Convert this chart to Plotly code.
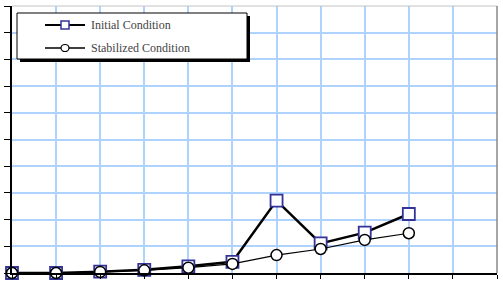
import plotly.graph_objects as go

# ---- data ----
x_positions = [0, 1, 2, 3, 4, 5, 6, 7, 8, 9]
initial_condition = [0, 0, 0.05, 0.12, 0.25, 0.42, 2.71, 1.11, 1.51, 2.21]
stabilized_condition = [0, 0, 0.04, 0.10, 0.20, 0.34, 0.67, 0.90, 1.24, 1.49]
series_names = ["Initial Condition", "Stabilized Condition"]

W, H = 503, 285
L, R, T, B = 12, 6, 6, 12
PW, PH = W - L - R, H - T - B


def px(x):
    return (x - L) / PW


def py(y):
    return (H - B - y) / PH


fig = go.Figure()
fig.add_trace(go.Scatter(
    x=x_positions, y=initial_condition, mode="lines+markers", name=series_names[0],
    line=dict(color="black", width=2.5),
    marker=dict(symbol="square", size=12, color="white", line=dict(color="#333399", width=1.8)),
    cliponaxis=False, showlegend=False))
fig.add_trace(go.Scatter(
    x=x_positions, y=stabilized_condition, mode="lines+markers", name=series_names[1],
    line=dict(color="black", width=1.2),
    marker=dict(symbol="circle", size=11, color="white", line=dict(color="black", width=1.5)),
    cliponaxis=False, showlegend=False))

shapes = []
# top border (light) and right border (gray)
shapes.append(dict(type="line", xref="paper", yref="paper", x0=0, x1=1, y0=1, y1=1,
                   line=dict(color="#c4c4c4", width=1), layer="above"))
shapes.append(dict(type="line", xref="paper", yref="paper", x0=1, x1=1, y0=0, y1=1,
                   line=dict(color="#888888", width=1.5), layer="above"))
# legend shadow and box
shapes.append(dict(type="rect", xref="paper", yref="paper", x0=px(20), x1=px(250), y0=py(16), y1=py(62),
                   fillcolor="black", line=dict(width=0), layer="above"))
shapes.append(dict(type="rect", xref="paper", yref="paper", x0=px(17), x1=px(247), y0=py(13), y1=py(59),
                   fillcolor="white", line=dict(color="black", width=1), layer="above"))
for yy in (25, 48):
    shapes.append(dict(type="line", xref="paper", yref="paper", x0=px(45), x1=px(85), y0=py(yy), y1=py(yy),
                       line=dict(color="black", width=1.5 if yy == 48 else 2), layer="above"))
shapes.append(dict(type="rect", xref="paper", yref="paper", x0=px(61), x1=px(69), y0=py(21), y1=py(29),
                   fillcolor="white", line=dict(color="#333399", width=1.5), layer="above"))
shapes.append(dict(type="circle", xref="paper", yref="paper", x0=px(61), x1=px(69), y0=py(44.5), y1=py(51.5),
                   fillcolor="white", line=dict(color="black", width=1.2), layer="above"))

annotations = []
for name, yy in zip(series_names, (25, 48)):
    annotations.append(dict(text=name, xref="paper", yref="paper", x=px(89), y=py(yy),
                            xanchor="left", yanchor="middle", showarrow=False,
                            font=dict(family="Liberation Serif", size=12, color="#444444")))

fig.update_layout(
    width=W, height=H, margin=dict(l=L, r=R, t=T, b=B),
    paper_bgcolor="white", plot_bgcolor="white",
    shapes=shapes, annotations=annotations,
    xaxis=dict(range=[0, 11], dtick=1, tick0=0, showgrid=True, gridcolor="#aed3ff", gridwidth=1.5,
               showticklabels=False, ticks="outside", ticklen=4, tickcolor="black", tickwidth=1,
               showline=True, linecolor="black", linewidth=2, zeroline=False, fixedrange=True),
    yaxis=dict(range=[0, 10], dtick=1, tick0=0, showgrid=True, gridcolor="#aed3ff", gridwidth=1.5,
               showticklabels=False, ticks="outside", ticklen=6, tickcolor="black", tickwidth=1,
               showline=True, linecolor="black", linewidth=2, zeroline=False, fixedrange=True),
    showlegend=False,
)

fig.write_html("out.html")
